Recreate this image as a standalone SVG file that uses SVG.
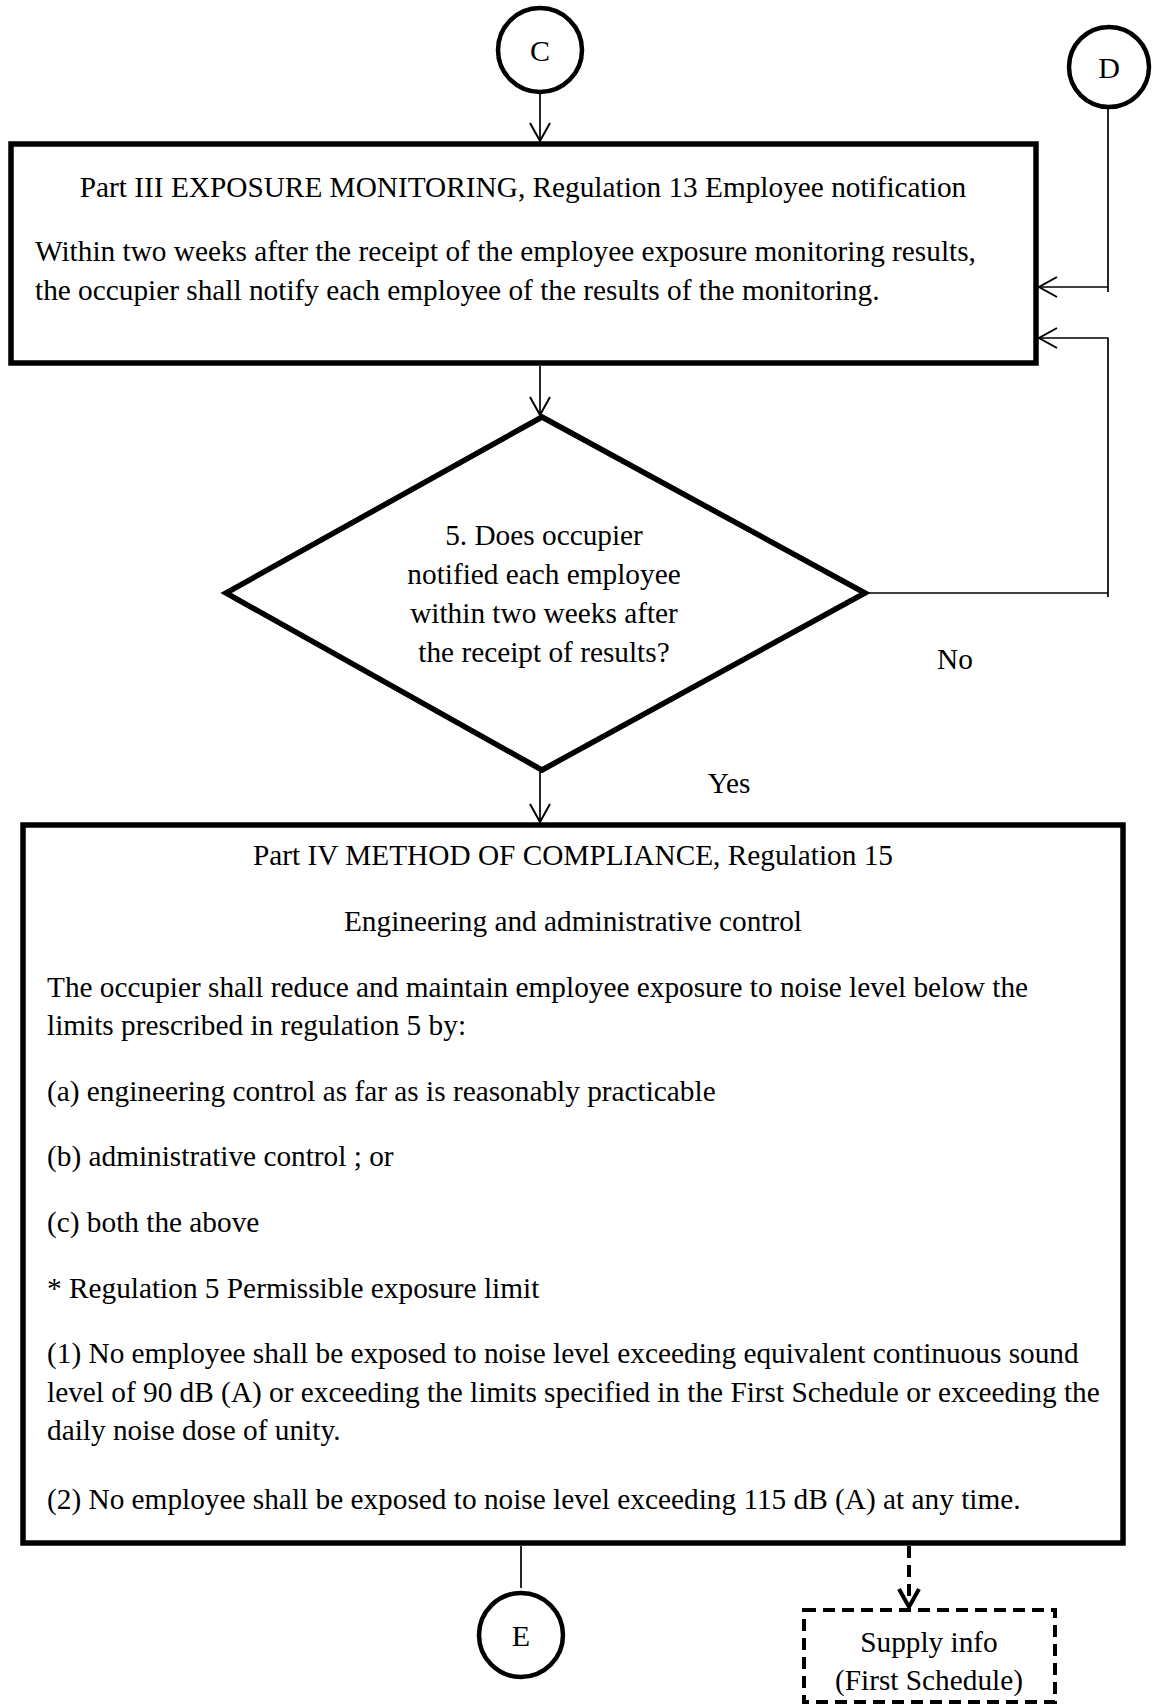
<svg xmlns="http://www.w3.org/2000/svg" width="1156" height="1705" viewBox="0 0 1156 1705">
  <style>
    text { font-family: "Liberation Serif", "Times New Roman", serif; fill: #000; }
    .t { font-size: 29.3px; }
    .mid { text-anchor: middle; }
    .lbl { font-size: 30px; text-anchor: middle; }
    .box { fill: #fff; stroke: #000; stroke-width: 5.5; }
    .conn { fill: none; stroke: #000; stroke-width: 1.7; }
    .dash { fill: none; stroke: #000; stroke-width: 4; stroke-dasharray: 12 7; }
  </style>
  <defs>
    <marker id="arr" markerUnits="userSpaceOnUse" markerWidth="26" markerHeight="26" refX="20" refY="13" orient="auto">
      <path d="M2,3 L20,13 L2,23" fill="none" stroke="#000" stroke-width="2"/>
    </marker>
    <marker id="arrBold" markerUnits="userSpaceOnUse" markerWidth="28" markerHeight="28" refX="22" refY="14" orient="auto">
      <path d="M4,4 L22,14 L4,24" fill="none" stroke="#000" stroke-width="4"/>
    </marker>
  </defs>
  <rect width="1156" height="1705" fill="#fff"/>

  <!-- connectors -->
  <g id="connectors">
    <line class="conn" x1="540" y1="94" x2="540" y2="141" marker-end="url(#arr)"/>
    <line class="conn" x1="540" y1="366" x2="540" y2="415" marker-end="url(#arr)"/>
    <line class="conn" x1="540" y1="772" x2="540" y2="822" marker-end="url(#arr)"/>
    <polyline class="conn" points="1108,108 1108,292"/>
    <line class="conn" x1="1108" y1="287" x2="1039" y2="287" marker-end="url(#arr)"/>
    <polyline class="conn" points="866,593 1108,593"/>
    <polyline class="conn" points="1108,597 1108,338 1039,338" marker-end="url(#arr)"/>
    <line class="conn" x1="521" y1="1546" x2="521" y2="1588"/>
    <line class="dash" x1="909" y1="1546" x2="909" y2="1607" marker-end="url(#arrBold)"/>
  </g>

  <g id="node-c">
    <circle cx="540" cy="50" r="42" fill="#fff" stroke="#000" stroke-width="4.5"/>
    <text class="lbl" x="540" y="61">C</text>
  </g>

  <g id="node-d">
    <circle cx="1109" cy="67" r="40" fill="#fff" stroke="#000" stroke-width="4.5"/>
    <text class="lbl" x="1109" y="78">D</text>
  </g>

  <g id="node-notification">
    <rect class="box" x="11" y="144" width="1025" height="219"/>
    <text class="t mid" x="523" y="197">Part III EXPOSURE MONITORING, Regulation 13 Employee notification</text>
    <text class="t" x="35" y="261">Within two weeks after the receipt of the employee exposure monitoring results,</text>
    <text class="t" x="35" y="300">the occupier shall notify each employee of the results of the monitoring.</text>
  </g>

  <g id="node-decision">
    <polygon class="box" points="542,417 865,593 542,770 226,593"/>
    <text class="t mid" x="544" y="545">5. Does occupier</text>
    <text class="t mid" x="544" y="584">notified each employee</text>
    <text class="t mid" x="544" y="623">within two weeks after</text>
    <text class="t mid" x="544" y="662">the receipt of results?</text>
  </g>

  <g id="label-no">
    <text class="t mid" x="955" y="669">No</text>
  </g>
  <g id="label-yes">
    <text class="t mid" x="729" y="793">Yes</text>
  </g>

  <g id="node-compliance">
    <rect class="box" x="23" y="825" width="1100" height="718"/>
    <text class="t mid" x="573" y="865">Part IV METHOD OF COMPLIANCE, Regulation 15</text>
    <text class="t mid" x="573" y="931">Engineering and administrative control</text>
    <text class="t" x="47" y="997">The occupier shall reduce and maintain employee exposure to noise level below the</text>
    <text class="t" x="47" y="1035">limits prescribed in regulation 5 by:</text>
    <text class="t" x="47" y="1101">(a) engineering control as far as is reasonably practicable</text>
    <text class="t" x="47" y="1166">(b) administrative control ; or</text>
    <text class="t" x="47" y="1232">(c) both the above</text>
    <text class="t" x="47" y="1298">* Regulation 5 Permissible exposure limit</text>
    <text class="t" x="47" y="1363">(1) No employee shall be exposed to noise level exceeding equivalent continuous sound</text>
    <text class="t" x="47" y="1402">level of 90 dB (A) or exceeding the limits specified in the First Schedule or exceeding the</text>
    <text class="t" x="47" y="1440">daily noise dose of unity.</text>
    <text class="t" x="47" y="1509">(2) No employee shall be exposed to noise level exceeding 115 dB (A) at any time.</text>
  </g>

  <g id="node-e">
    <circle cx="521" cy="1635" r="42" fill="#fff" stroke="#000" stroke-width="4.5"/>
    <text class="lbl" x="521" y="1646">E</text>
  </g>

  <g id="node-supply">
    <rect class="dash" x="804" y="1610" width="251" height="92" fill="#fff"/>
    <text class="t mid" x="929" y="1652">Supply info</text>
    <text class="t mid" x="929" y="1690">(First Schedule)</text>
  </g>
</svg>
